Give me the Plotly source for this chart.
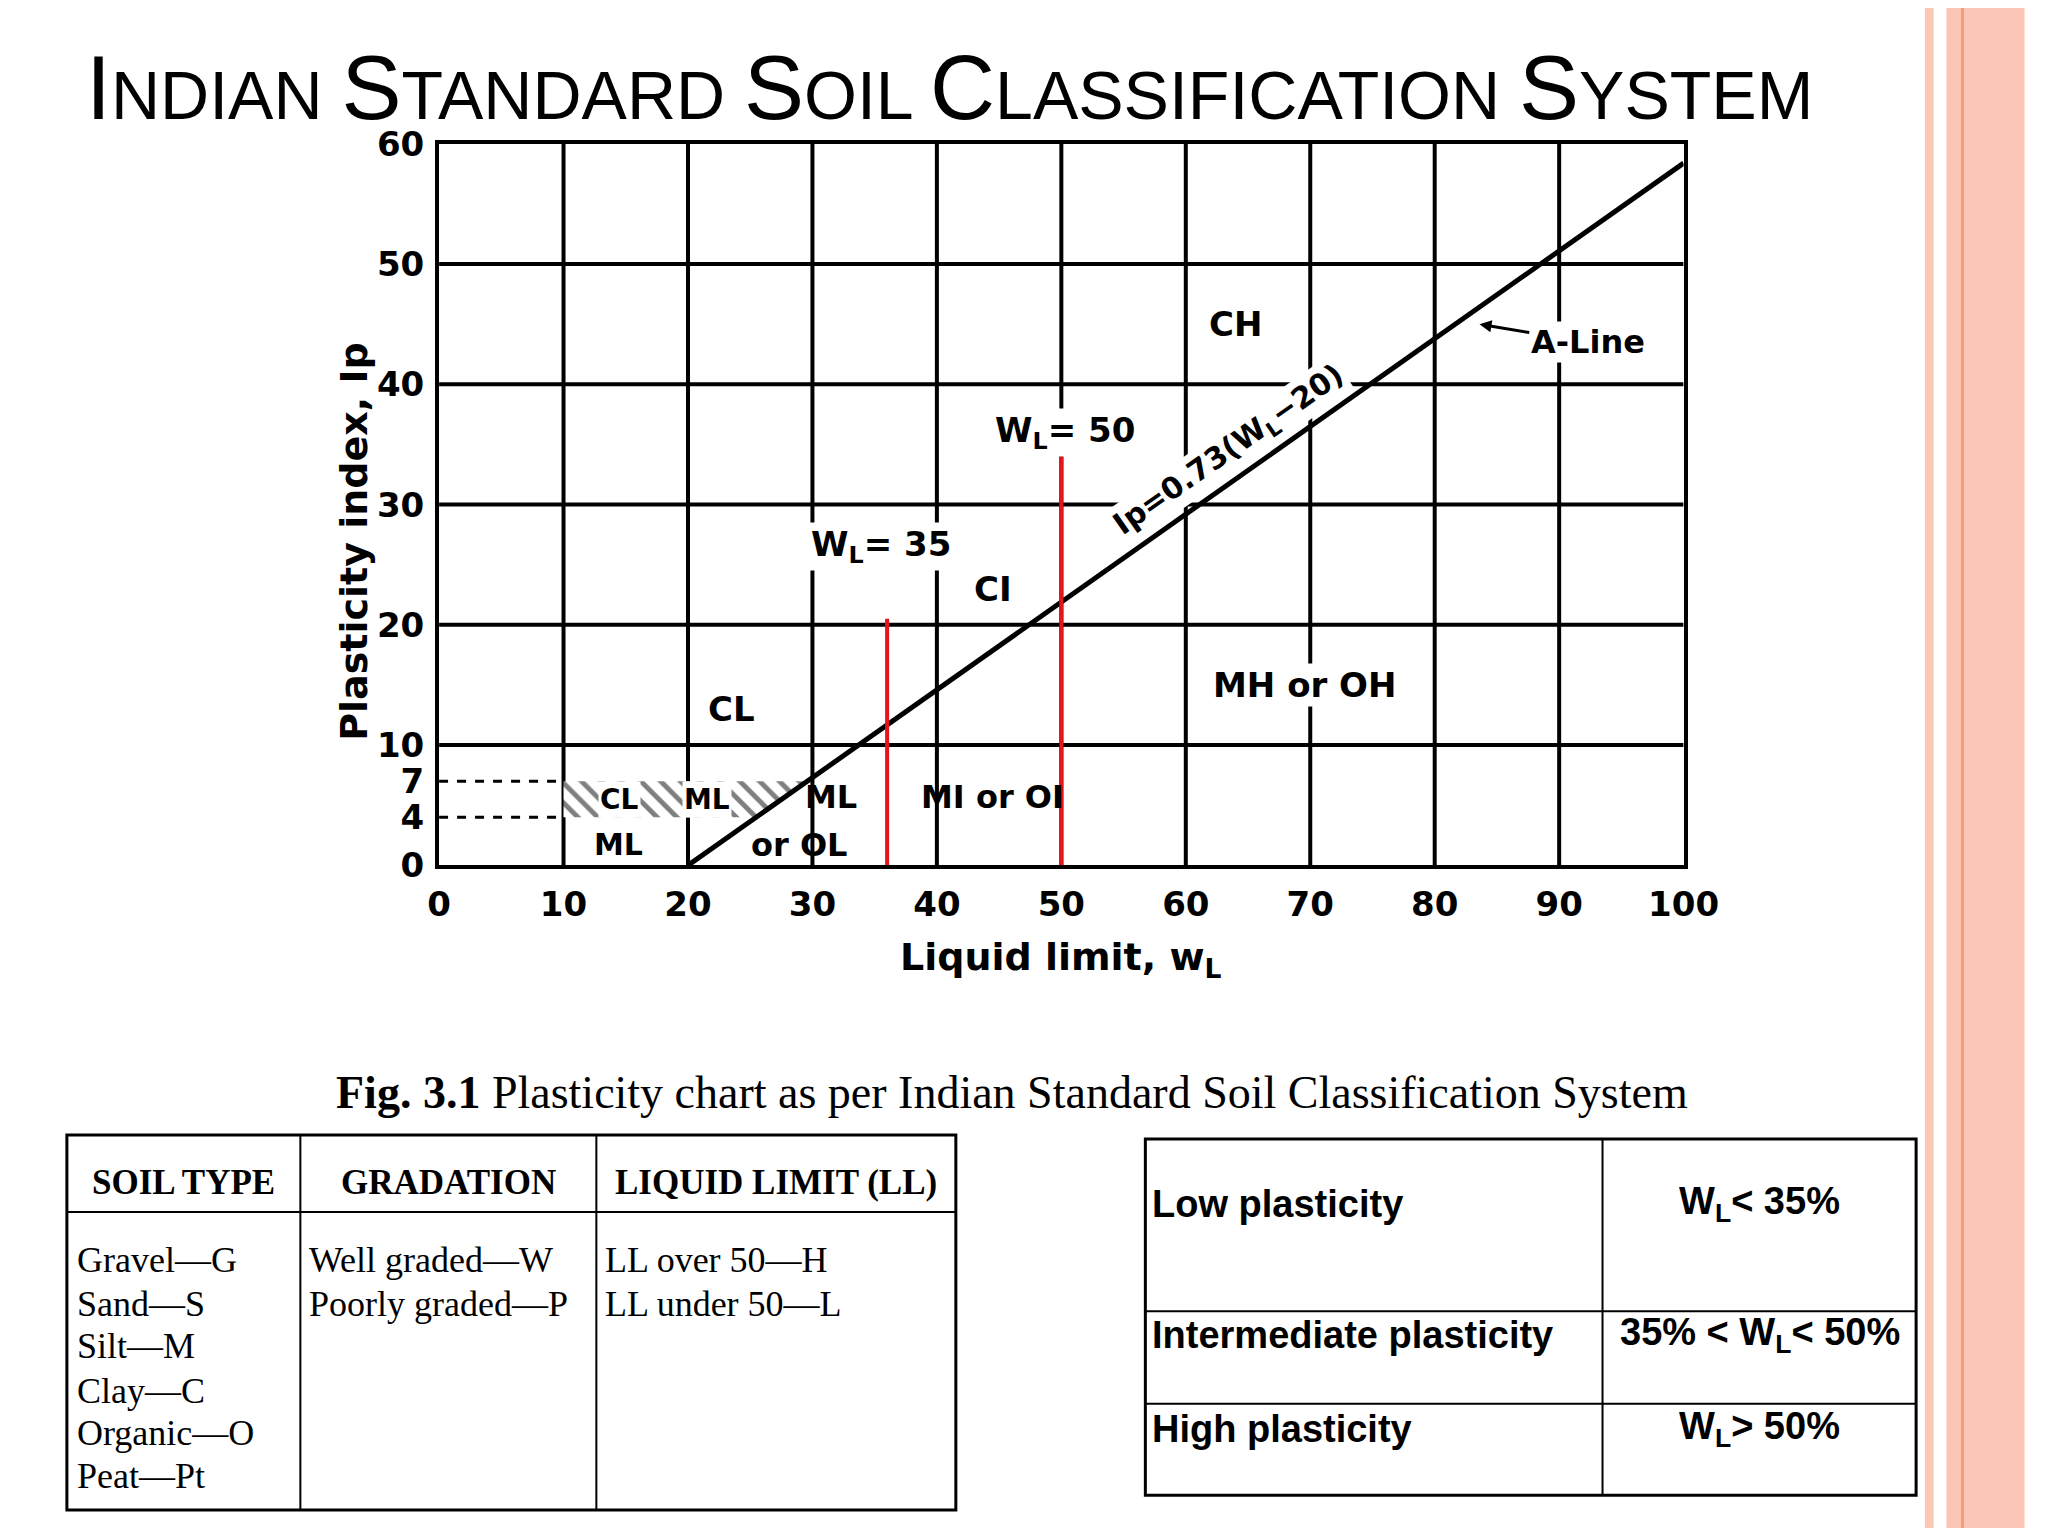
import plotly.graph_objects as go

W, H = 2032, 1520
OFF = 8
x_ticks = [0, 10, 20, 30, 40, 50, 60, 70, 80, 90, 100]
y_ticks = [0, 4, 7, 10, 20, 30, 40, 50, 60]
grid_y = [10, 20, 30, 40, 50, 60]
aline_x = [20, 100]
aline_y = [0.73 * (v - 20) for v in aline_x]
red_x = [36, 50]
red_top = [20.5, 34]
dash_y = [4, 7]
hatch_x = [10, 10, 29.6, 25.5]
hatch_y = [4, 7, 7, 4]

left_headers = ["SOIL TYPE", "GRADATION", "LIQUID LIMIT (LL)"]
left_col1 = ["Gravel—G", "Sand—S", "Silt—M", "Clay—C", "Organic—O", "Peat—Pt"]
left_col2 = ["Well graded—W", "Poorly graded—P"]
left_col3 = ["LL over 50—H", "LL under 50—L"]
right_names = ["Low plasticity", "Intermediate plasticity", "High plasticity"]
right_vals = ["W<sub>L</sub>< 35%", "35% < W<sub>L</sub>< 50%", "W<sub>L</sub>> 50%"]

def px(x): return (x - OFF) / W
def py(y): return 1 - (y - OFF) / H

fig = go.Figure()
fig.add_trace(go.Scatter(x=hatch_x + [hatch_x[0]], y=hatch_y + [hatch_y[0]], fill="toself",
                         mode="none", fillcolor="white",
                         fillpattern=dict(shape="\\", fgcolor="black", bgcolor="white", size=14, solidity=0.35),
                         showlegend=False, hoverinfo="skip"))
fig.add_trace(go.Scatter(x=aline_x, y=aline_y, mode="lines", line=dict(color="black", width=5), showlegend=False))
for xv, top in zip(red_x, red_top):
    fig.add_trace(go.Scatter(x=[xv, xv], y=[-1.2, top], mode="lines", line=dict(color="#e8141b", width=4),
                             showlegend=False, cliponaxis=False))
for yv in dash_y:
    fig.add_trace(go.Scatter(x=[0, 10], y=[yv, yv], mode="lines", line=dict(color="black", width=3, dash="dash"),
                             showlegend=False))

shapes = []
for xv in x_ticks[1:-1]:
    shapes.append(dict(type="line", x0=xv, x1=xv, y0=0, y1=60, xref="x", yref="y",
                       line=dict(color="black", width=4), layer="below"))
for yv in grid_y[:-1]:
    shapes.append(dict(type="line", x0=0, x1=100, y0=yv, y1=yv, xref="x", yref="y",
                       line=dict(color="black", width=4), layer="below"))

def rect_lines(x0, y0, x1, y1, w=3):
    shapes.append(dict(type="rect", x0=px(x0), x1=px(x1), y0=py(y1), y1=py(y0), xref="paper", yref="paper",
                       line=dict(color="black", width=w)))
def hline(x0, x1, y, w=2):
    shapes.append(dict(type="line", x0=px(x0), x1=px(x1), y0=py(y), y1=py(y), xref="paper", yref="paper",
                       line=dict(color="black", width=w)))
def vline(x, y0, y1, w=2):
    shapes.append(dict(type="line", x0=px(x), x1=px(x), y0=py(y0), y1=py(y1), xref="paper", yref="paper",
                       line=dict(color="black", width=w)))

rect_lines(56, 1145, 966, 1530)
vline(295, 1145, 1530); vline(598, 1145, 1530); hline(56, 966, 1224)
rect_lines(1160, 1149, 1949, 1515)
vline(1628, 1149, 1515); hline(1160, 1949, 1326); hline(1160, 1949, 1421)

for x0, x1, c in [(1958, 1967, "#fcc8b6"), (1980, 2060, "#fcc6b6"), (1995, 1998, "#f0a070")]:
    shapes.append(dict(type="rect", x0=px(x0), x1=px(x1), y0=-0.02, y1=1.02, xref="paper", yref="paper",
                       fillcolor=c, line=dict(width=0)))

ann = []
F = "DejaVu Sans"
def lab(x, y, t, size=34, **kw):
    d = dict(x=x, y=y, text=t, showarrow=False, xref="x", yref="y",
             font=dict(family=F, size=size, color="black"))
    d.update(kw)
    ann.append(d)

lab(23.5, 13, "<b>CL</b>", bgcolor="white")
lab(64, 45, "<b>CH</b>", bgcolor="white")
lab(50.3, 36, "<b>W<sub>L</sub>= 50</b>", bgcolor="white")
lab(35.5, 26.5, "<b>W<sub>L</sub>= 35</b>", bgcolor="white")
lab(44.5, 23, "<b>CI</b>", bgcolor="white")
lab(69.5, 15, "<b>MH or OH</b>", bgcolor="white")
lab(31.5, 5.7, "<b>ML</b>", size=32)
lab(29, 1.7, "<b>or OL</b>", size=32)
lab(44.5, 5.7, "<b>MI or OI</b>", size=32)
lab(14.4, 1.7, "<b>ML</b>", size=30)
lab(14.5, 5.5, "<b>CL</b>", size=28, bgcolor="white")
lab(21.5, 5.5, "<b>ML</b>", size=28, bgcolor="white")
lab(63.5, 34.5, "<b>Ip=0.73(W<sub>L</sub>−20)</b>", size=30, textangle=-35, bgcolor="white")
ann.append(dict(x=83.6, y=45, ax=92.3, ay=43.5, axref="x", ayref="y", xref="x", yref="y",
                text="<b>A-Line</b>", showarrow=True, arrowhead=2, arrowwidth=3, arrowsize=0.8,
                arrowcolor="black", font=dict(family=F, size=32, color="black"), bgcolor="white", standoff=0))

def pt(x, y, t, size, fam, xanchor="center", yanchor="middle"):
    ann.append(dict(x=px(x), y=py(y), xref="paper", yref="paper", text=t, showarrow=False,
                    xanchor=xanchor, yanchor=yanchor, font=dict(family=fam, size=size, color="black")))

s = "<span style='font-size:68px'>"
pt(74, 70, f"I{s}NDIAN </span>S{s}TANDARD </span>S{s}OIL </span>C{s}LASSIFICATION </span>S{s}YSTEM</span>",
   90, "Liberation Sans", xanchor="left")
pt(1074, 965, "<b>Liquid limit, w<sub>L</sub></b>", 38, F)
ann.append(dict(x=px(325), y=py(535), xref="paper", yref="paper", text="<b>Plasticity index, Ip</b>",
                textangle=-90, showarrow=False, font=dict(family=F, size=38, color="black")))
pt(1023, 1101, "<b>Fig. 3.1</b> Plasticity chart as per Indian Standard Soil Classification System", 46, "Liberation Serif")

hx = [175, 447, 782]
for x, t in zip(hx, left_headers):
    pt(x, 1194, "<b>" + t + "</b>", 35, "Liberation Serif")
rows = [1273, 1318, 1362, 1408, 1451, 1495]
for yv, t in zip(rows, left_col1):
    pt(64, yv, t, 36, "Liberation Serif", xanchor="left")
for yv, t in zip(rows, left_col2):
    pt(302, yv, t, 36, "Liberation Serif", xanchor="left")
for yv, t in zip(rows, left_col3):
    pt(605, yv, t, 36, "Liberation Serif", xanchor="left")
ry = [1216, 1350, 1447]
for yv, n, v in zip(ry, right_names, right_vals):
    pt(1165, yv, "<b>" + n + "</b>", 38, "Liberation Sans", xanchor="left")
    pt(1789, yv, "<b>" + v + "</b>", 38, "Liberation Sans")

tf = dict(family=F, size=34, color="black", weight="bold")
fig.update_layout(
    width=W, height=H, margin=dict(l=0, r=0, t=0, b=0),
    paper_bgcolor="white", plot_bgcolor="white", shapes=shapes, annotations=ann,
    xaxis=dict(domain=[px(437), px(1711)], range=[0, 100], tickvals=x_ticks, showgrid=False, zeroline=False,
               showline=True, mirror=True, linewidth=4, linecolor="black", ticks="",
               tickfont=tf, ticklabelstandoff=6),
    yaxis=dict(domain=[py(868), py(127)], range=[0, 60], tickvals=y_ticks, showgrid=False, zeroline=False,
               showline=True, mirror=True, linewidth=4, linecolor="black", ticks="",
               tickfont=tf, ticklabelstandoff=4),
)
fig.write_html("out.html")
